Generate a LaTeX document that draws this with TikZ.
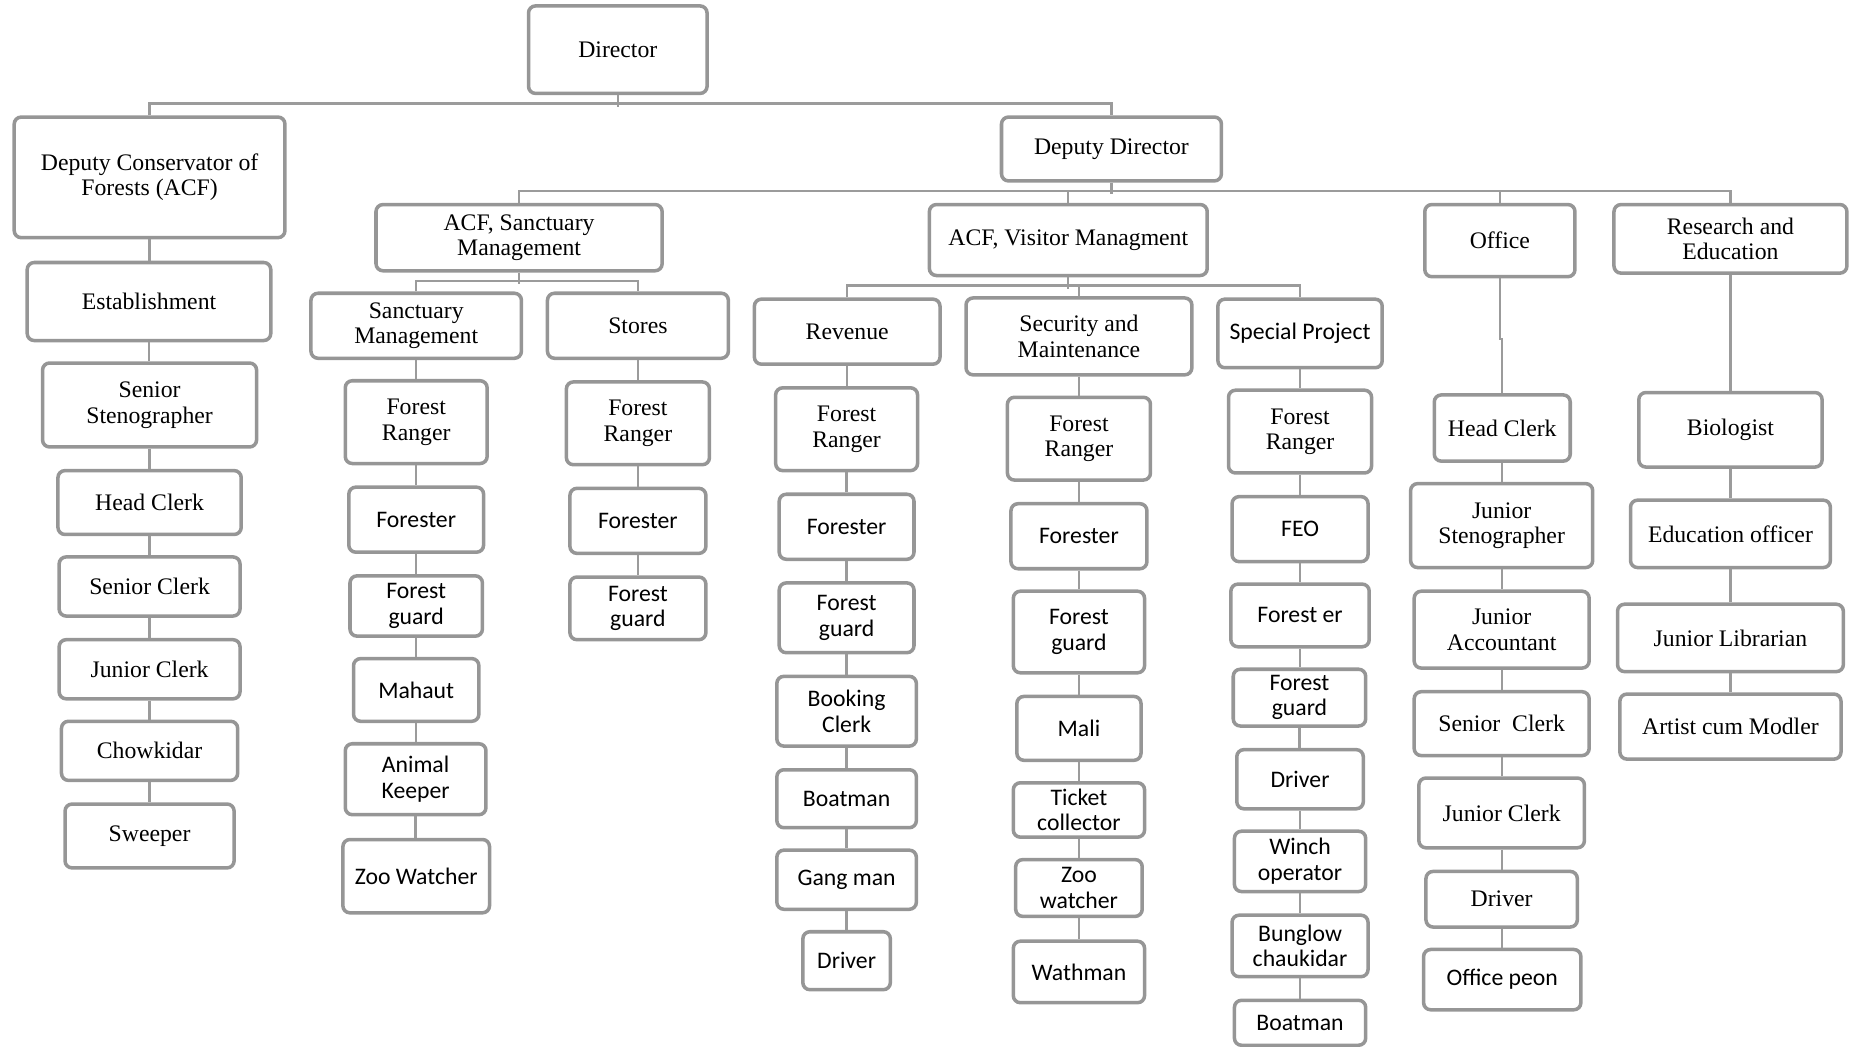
\documentclass[tikz,border=0pt]{standalone}
\usepackage{fontspec}
\setmainfont{Liberation Serif}
\newfontfamily\calibrifont{Carlito}
\definecolor{bordc}{RGB}{150,150,150}
\definecolor{linec}{RGB}{155,155,155}
\def\uu{0.023648cm}
\newcommand\bx[7]{\node[box,#1,minimum width={(#5-#3)*\uu},minimum height={(#6-#4)*\uu}] (#2) at ({(#3+#5)/2},{(#4+#6)/2}) {#7};}
\newcommand\chain[2]{\draw[conn] (#1.south) -- (#1.south |- #2.north);}
\tikzset{
  box/.style={draw=bordc, line width=2pt, rounded corners=4pt, fill=white, align=center, inner sep=1pt, font=\fontsize{13.5}{14.5}\selectfont},
  sans/.style={font=\calibrifont\fontsize{13.5}{14.5}\selectfont},
  conn/.style={draw=linec, line width=1.3pt}
}
\begin{document}
\begin{tikzpicture}[x=0.023648cm, y=-0.023648cm]
\useasboundingbox (0,0) rectangle (1568,885);
% top
\bx{}{dir}{447}{5}{598}{79}{Director}
\bx{}{dcf}{12}{99}{241}{201}{Deputy Conservator of\\Forests (ACF)}
\bx{}{est}{23}{222}{229}{288}{Establishment}
\bx{}{sst}{36}{307}{217}{378}{Senior\\Stenographer}
\bx{}{hc1}{49}{398}{204}{452}{Head Clerk}
\bx{}{sc1}{50}{471}{203}{521}{Senior Clerk}
\bx{}{jc1}{50}{541}{203}{591}{Junior Clerk}
\bx{}{chw}{52}{610}{201}{660}{Chowkidar}
\bx{}{swp}{55}{680}{198}{734}{Sweeper}
\bx{}{dd}{847}{99}{1033}{153}{Deputy Director}
% sanctuary
\bx{}{acfs}{318}{173}{560}{229}{ACF, Sanctuary\\Management}
\bx{}{sm}{263}{248}{441}{303}{Sanctuary\\Management}
\bx{}{sto}{463}{248}{616}{303}{Stores}
\bx{}{sm1}{292}{322}{412}{392}{Forest\\Ranger}
\bx{sans}{sm2}{295}{412}{409}{467}{Forester}
\bx{sans}{sm3}{296}{487}{408}{538}{Forest\\guard}
\bx{sans}{sm4}{299}{557}{405}{610}{Mahaut}
\bx{sans}{sm5}{292}{629}{411}{689}{Animal\\Keeper}
\bx{sans}{sm6}{290}{710}{414}{772}{Zoo Watcher}
\bx{}{st1}{479}{323}{600}{393}{Forest\\Ranger}
\bx{sans}{st2}{482}{413}{597}{468}{Forester}
\bx{sans}{st3}{482}{488}{597}{541}{Forest\\guard}
% visitor
\bx{}{acfv}{786}{173}{1021}{233}{ACF, Visitor Managment}
\bx{}{rev}{638}{253}{795}{308}{Revenue}
\bx{}{sec}{817}{252}{1008}{317}{Security and\\Maintenance}
\bx{sans}{spp}{1030}{253}{1169}{311}{Special Project}
\bx{}{rv1}{656}{328}{776}{398}{Forest\\Ranger}
\bx{sans}{rv2}{659}{418}{773}{473}{Forester}
\bx{sans}{rv3}{659}{493}{773}{552}{Forest\\guard}
\bx{sans}{rv4}{657}{572}{775}{631}{Booking\\Clerk}
\bx{sans}{rv5}{657}{651}{775}{700}{Boatman}
\bx{sans}{rv6}{657}{719}{775}{769}{Gang man}
\bx{sans}{rv7}{679}{788}{753}{837}{Driver}
\bx{}{se1}{852}{336}{973}{406}{Forest\\Ranger}
\bx{sans}{se2}{855}{426}{970}{481}{Forester}
\bx{sans}{se3}{857}{500}{968}{569}{Forest\\guard}
\bx{sans}{se4}{860}{589}{965}{643}{Mali}
\bx{sans}{se5}{857}{662}{968}{708}{Ticket\\collector}
\bx{sans}{se6}{859}{727}{966}{775}{Zoo\\watcher}
\bx{sans}{se7}{857}{796}{968}{848}{Wathman}
\bx{}{sp1}{1039}{330}{1160}{400}{Forest\\Ranger}
\bx{sans}{sp2}{1042}{420}{1157}{475}{FEO}
\bx{sans}{sp3}{1041}{494}{1158}{547}{Forest er}
\bx{sans}{sp4}{1043}{566}{1155}{614}{Forest\\guard}
\bx{sans}{sp5}{1046}{634}{1153}{684}{Driver}
\bx{sans}{sp6}{1044}{703}{1155}{754}{Winch\\operator}
\bx{sans}{sp7}{1042}{774}{1157}{826}{Bunglow\\chaukidar}
\bx{sans}{sp8}{1044}{846}{1155}{884}{Boatman}
% office
\bx{}{off}{1205}{173}{1332}{234}{Office}
\bx{}{of1}{1213}{334}{1328}{390}{Head Clerk}
\bx{}{of2}{1193}{409}{1347}{480}{Junior\\Stenographer}
\bx{}{of3}{1196}{500}{1344}{565}{Junior\\Accountant}
\bx{}{of4}{1196}{585}{1344}{639}{Senior\enspace Clerk}
\bx{}{of5}{1200}{658}{1340}{717}{Junior Clerk}
\bx{}{of6}{1206}{737}{1334}{784}{Driver}
\bx{sans}{of7}{1204}{803}{1337}{854}{Office peon}
% research
\bx{}{res}{1365}{173}{1562}{231}{Research and\\Education}
\bx{}{re1}{1386}{332}{1541}{395}{Biologist}
\bx{}{re2}{1379}{423}{1548}{480}{Education officer}
\bx{}{re3}{1368}{511}{1559}{568}{Junior Librarian}
\bx{}{re4}{1370}{587}{1557}{642}{Artist cum Modler}
% tree connectors
\draw[conn] (dir.south) -- ++(0,10);
\draw[conn] (dcf.north) -- ++(0,-10) -| (dd.north);
\draw[conn] (dd.south) -- ++(0,10);
\draw[conn] (acfs.north) -- ++(0,-10) -| (res.north);
\draw[conn] (acfv.north) -- ++(0,-10);
\draw[conn] (off.north) -- ++(0,-10);
\draw[conn] (acfs.south) -- ++(0,10);
\draw[conn] (sm.north) -- ++(0,-9) -| (sto.north);
\draw[conn] (acfv.south) -- ++(0,10);
\draw[conn] (rev.north) -- ++(0,-10) -| (spp.north);
\draw[conn] (sec.north) -- ++(0,-9);
\draw[conn] (off.south) -- ++(0,51) -| (of1.north);
% chains
\chain{dcf}{est}\chain{est}{sst}\chain{sst}{hc1}\chain{hc1}{sc1}\chain{sc1}{jc1}\chain{jc1}{chw}\chain{chw}{swp}
\chain{sm}{sm1}\chain{sm1}{sm2}\chain{sm2}{sm3}\chain{sm3}{sm4}\chain{sm4}{sm5}\chain{sm5}{sm6}
\chain{sto}{st1}\chain{st1}{st2}\chain{st2}{st3}
\chain{rev}{rv1}\chain{rv1}{rv2}\chain{rv2}{rv3}\chain{rv3}{rv4}\chain{rv4}{rv5}\chain{rv5}{rv6}\chain{rv6}{rv7}
\chain{sec}{se1}\chain{se1}{se2}\chain{se2}{se3}\chain{se3}{se4}\chain{se4}{se5}\chain{se5}{se6}\chain{se6}{se7}
\chain{spp}{sp1}\chain{sp1}{sp2}\chain{sp2}{sp3}\chain{sp3}{sp4}\chain{sp4}{sp5}\chain{sp5}{sp6}\chain{sp6}{sp7}\chain{sp7}{sp8}
\chain{of1}{of2}\chain{of2}{of3}\chain{of3}{of4}\chain{of4}{of5}\chain{of5}{of6}\chain{of6}{of7}
\chain{res}{re1}\chain{re1}{re2}\chain{re2}{re3}\chain{re3}{re4}
\end{tikzpicture}
\end{document}
